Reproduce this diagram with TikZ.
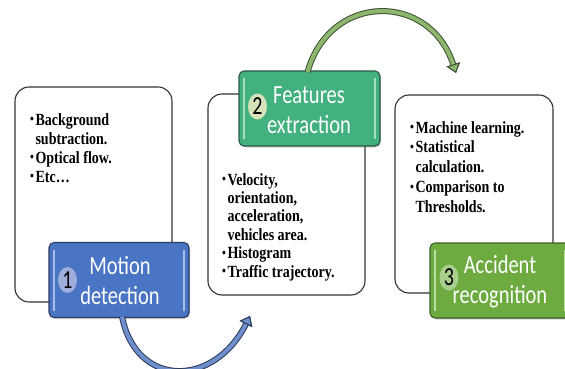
\documentclass[tikz,border=0pt]{standalone}
\usepackage{fontspec}
\usepackage{graphicx}
\setmainfont{Liberation Serif}
\newfontfamily\headfont{Carlito}
\usetikzlibrary{arrows.meta,shadows,shapes.geometric}

% palette
\definecolor{motionblue}{HTML}{4A74C4}
\definecolor{motionedge}{HTML}{2C3E63}
\definecolor{motionlite}{HTML}{A9BEE6}
\definecolor{motioncirc}{HTML}{9DAEDA}
\definecolor{featgreen}{HTML}{42B07F}
\definecolor{featedge}{HTML}{2A5A44}
\definecolor{featlite}{HTML}{A6E0C4}
\definecolor{featcirc}{HTML}{D5E3BA}
\definecolor{accgreen}{HTML}{6DAA40}
\definecolor{accedge}{HTML}{3F5E2A}
\definecolor{acclite}{HTML}{BCDDA4}
\definecolor{acccirc}{HTML}{A8CF8C}
\definecolor{paneledge}{HTML}{333333}
\definecolor{arrowblue}{HTML}{6E8FCB}
\definecolor{arrowblueedge}{HTML}{2B3A58}
\definecolor{arrowgreen}{HTML}{8DB76E}
\definecolor{arrowgreenedge}{HTML}{3B5230}

% vertically stretched text
\newcommand{\tallbox}[2]{\scalebox{1}[#1]{#2}}
\newcommand{\bul}{\raisebox{0.15ex}{\fontsize{11}{11}\selectfont\textbullet}}
% bullet list: #1 = line spacing, #2 = rows
\newcommand{\itemlist}[2]{\tallbox{1.22}{\fontsize{14}{#1}\selectfont\bfseries
  \begin{tabular}[t]{@{}l@{\hspace{1.5pt}}l@{}}#2\end{tabular}}}
% two-line stage title
\newcommand{\headtext}[2]{\tallbox{1.28}{\headfont\fontsize{20.5}{24}\selectfont
  \begin{tabular}[t]{@{}c@{}}#1\\#2\end{tabular}}}
% stage number
\newcommand{\stagenum}[1]{\tallbox{1.3}{\headfont\fontsize{20}{20}\selectfont #1}}

\begin{document}
\begin{tikzpicture}[x=1pt,y=-1pt,
  panel/.style={draw=paneledge, line width=1.1pt, rounded corners=14pt,
    fill=white, inner sep=0pt, outer sep=0pt},
  header/.style={rounded corners=5pt, line width=1.1pt, inner sep=0pt,
    outer sep=0pt, minimum width=140pt, minimum height=75pt,
    drop shadow={shadow xshift=1pt, shadow yshift=-1.5pt, opacity=0.35}},
  badge/.style={ellipse, inner sep=0pt, minimum width=19pt,
    minimum height=26pt, text=black},
  listtext/.style={anchor=base west, inner sep=0pt, text=black},
  titletext/.style={anchor=base, inner sep=0pt, text=white},
  flow/.style n args={2}{#1, line width=4pt,
    preaction={draw=#2, line width=6pt},
    -{Triangle[length=9pt, width=14pt, line width=1pt, fill=#1, color=#2]}}
]
\useasboundingbox (0,0) rectangle (565,369);
\clip (0,0) rectangle (565,369);
\fill[white] (0,0) rectangle (565,369);

% content panels
\node[panel, minimum width=157pt, minimum height=215pt] (p1) at (93.5,194.5) {};
\node[panel, minimum width=157pt, minimum height=201pt] (p2) at (286.5,194.5) {};
\node[panel, minimum width=158pt, minimum height=198pt] (p3) at (474,194) {};

\node[listtext] (t1) at (30,125) {\itemlist{15.6}{%
  \bul & Background\\ & subtraction.\\ \bul & Optical flow.\\ \bul & Etc…}};
\node[listtext] (t2) at (222,185) {\itemlist{15.1}{%
  \bul & Velocity,\\ & orientation,\\ & acceleration,\\ & vehicles area.\\
  \bul & Histogram\\ \bul & Traffic trajectory.}};
\node[listtext] (t3) at (410,133) {\itemlist{16.2}{%
  \bul & Machine learning.\\ \bul & Statistical\\ & calculation.\\
  \bul & Comparison to\\ & Thresholds.}};

% stage headers
\node[header, fill=motionblue, draw=motionedge] (h1) at (119,280) {};
\node[header, fill=featgreen, draw=featedge, minimum width=141pt] (h2) at (309.5,108.5) {};
\node[header, fill=accgreen, draw=accedge] (h3) at (500,280.5) {};

% glossy side highlights
\foreach \h/\c in {h1/motionlite, h2/featlite, h3/acclite}{
  \draw[\c, line width=1.3pt] ([xshift=5pt,yshift=-7pt]\h.north west) -- ([xshift=5pt,yshift=7pt]\h.south west);
  \draw[\c, line width=1.3pt] ([xshift=-5pt,yshift=-7pt]\h.north east) -- ([xshift=-5pt,yshift=7pt]\h.south east);
}

\node[titletext] (l1) at (120,274) {\headtext{Motion}{detection}};
\node[titletext] (l2) at (309,103) {\headtext{Features}{extraction}};
\node[titletext] (l3) at (500,273) {\headtext{Accident}{recognition}};

\node[badge, fill=motioncirc] (b1) at (67.5,280) {\stagenum{1}};
\node[badge, fill=featcirc] (b2) at (257.5,106.5) {\stagenum{2}};
\node[badge, fill=acccirc] (b3) at (449,277.5) {\stagenum{3}};

% connectors between stages
\coordinate (e1) at (250,316);
\coordinate (e2) at (456,73);
\draw[flow={arrowblue}{arrowblueedge}] ([xshift=3pt,yshift=1pt]h1.south) .. controls (136,388) and (214,388) .. (e1);
\draw[flow={arrowgreen}{arrowgreenedge}] ([xshift=-2pt,yshift=-1pt]h2.north) .. controls (330,-8) and (430,-8) .. (e2);
\end{tikzpicture}
\end{document}
